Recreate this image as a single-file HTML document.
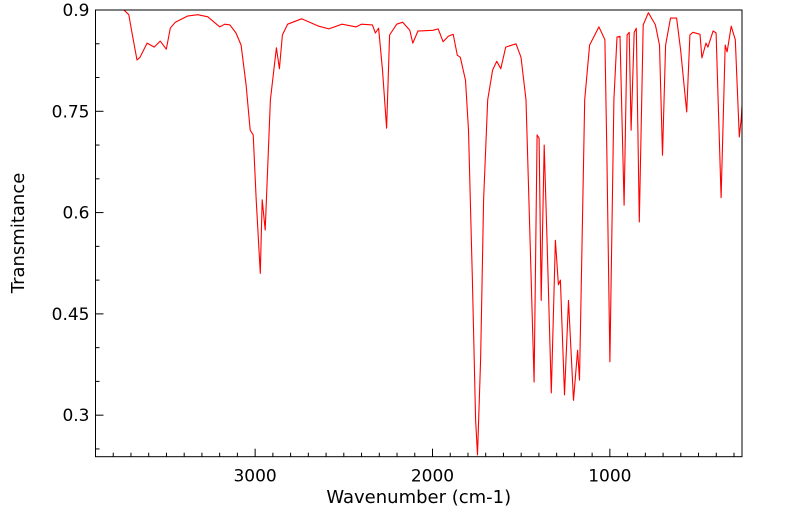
<!DOCTYPE html>
<html><head><meta charset="utf-8"><style>
html,body{margin:0;padding:0;background:#fff;}
svg{display:block;font-family:"DejaVu Sans","Liberation Sans",sans-serif;}
</style></head><body>
<svg id="chart" width="799" height="516" xmlns="http://www.w3.org/2000/svg"></svg>
<script>
const wavenumbers = [3923,3740,3712,3695,3666,3649,3609,3569,3535,3501,3478,3450,3382,3324,3267,3199,3171,3142,3108,3079,3051,3028,3011,2994,2971,2960,2943,2914,2880,2863,2846,2817,2738,2641,2584,2510,2430,2401,2339,2322,2304,2282,2259,2242,2202,2168,2128,2111,2082,2071,1997,1968,1940,1911,1883,1860,1843,1814,1797,1775,1757,1746,1729,1712,1689,1661,1638,1615,1587,1529,1501,1473,1455,1427,1410,1399,1387,1370,1353,1330,1307,1290,1279,1256,1233,1205,1182,1171,1142,1114,1062,1028,1017,1000,977,960,943,920,903,891,880,863,851,834,812,783,743,720,703,686,658,624,601,567,549,532,492,481,458,447,418,401,373,350,339,316,293,270,259,236];
const transmittance = [0.900,0.900,0.893,0.867,0.826,0.830,0.851,0.845,0.854,0.842,0.873,0.882,0.891,0.893,0.890,0.875,0.879,0.878,0.866,0.848,0.789,0.722,0.715,0.619,0.510,0.619,0.574,0.767,0.844,0.813,0.863,0.879,0.887,0.876,0.872,0.879,0.875,0.879,0.878,0.866,0.873,0.811,0.725,0.863,0.879,0.882,0.870,0.851,0.869,0.869,0.870,0.872,0.853,0.861,0.864,0.833,0.830,0.796,0.722,0.500,0.293,0.241,0.382,0.619,0.767,0.811,0.824,0.813,0.845,0.850,0.830,0.767,0.604,0.349,0.715,0.710,0.470,0.700,0.545,0.333,0.559,0.493,0.500,0.330,0.470,0.322,0.396,0.352,0.767,0.848,0.875,0.856,0.693,0.379,0.767,0.860,0.861,0.611,0.863,0.867,0.722,0.867,0.873,0.586,0.878,0.896,0.878,0.848,0.685,0.848,0.888,0.888,0.841,0.749,0.863,0.867,0.864,0.829,0.851,0.845,0.869,0.866,0.622,0.848,0.838,0.876,0.856,0.712,0.740,0.848];
const xTickValues = [3000,2000,1000];
const yTickValues = [0.9,0.75,0.6,0.45,0.3];
const yTickLabels = ["0.9","0.75","0.6","0.45","0.3"];

const L=95.5,R=742,T=10,B=456.7;
const X0=3900,X1=255,Y0=0.9,Y1=0.2385;
const xs=w=>L+(X0-w)/(X0-X1)*(R-L);
const ys=v=>T+(Y0-v)/(Y0-Y1)*(B-T);
const svg=document.getElementById('chart');
const NS='http://www.w3.org/2000/svg';
function mk(tag,attrs,parent){const e=document.createElementNS(NS,tag);for(const k in attrs)e.setAttribute(k,attrs[k]);(parent||svg).appendChild(e);return e;}

let d='';
for(let i=0;i<wavenumbers.length;i++){d+=(i?'L':'M')+xs(wavenumbers[i]).toFixed(1)+','+ys(transmittance[i]).toFixed(1);}
const clip=mk('clipPath',{id:'pc'});mk('rect',{x:L,y:T,width:R-L,height:B-T},clip);
const line=mk('path',{d:d,fill:'none',stroke:'#ff0000','stroke-width':1.1,'clip-path':'url(#pc)','stroke-linejoin':'round'});



const frame=mk('rect',{x:L,y:T,width:R-L,height:B-T,fill:'none',stroke:'#000','stroke-width':1});



for(let w=3800;w>=X1;w-=100){
  const x=xs(w);const major=xTickValues.includes(w);
  const t=mk('line',{x1:x,x2:x,y1:B,y2:B-(major?8:4),stroke:'#000','stroke-width':1});
  
  
}
xTickValues.forEach(w=>{
  const tx=mk('text',{x:xs(w),y:B+25,'text-anchor':'middle','font-size':17,fill:'#000'});
  tx.textContent=String(w);
  
  
});
for(let k=0;k<=13;k++){
  const v=0.9-k*0.05;if(v<Y1)break;
  const y=ys(v);const major=(k%3===0);
  const t=mk('line',{x1:L,x2:L+(major?8:4),y1:y,y2:y,stroke:'#000','stroke-width':1});
  
  
}
yTickValues.forEach((v,i)=>{
  const tx=mk('text',{x:L-6,y:ys(v)+6,'text-anchor':'end','font-size':17,fill:'#000'});
  tx.textContent=yTickLabels[i];
  
  
});
const xt=mk('text',{x:(L+R)/2,y:503,'text-anchor':'middle','font-size':18,fill:'#000'});
xt.textContent='Wavenumber (cm-1)';


const yt=mk('text',{x:0,y:0,'text-anchor':'middle','font-size':18,fill:'#000',transform:'translate(24,233) rotate(-90)'});
yt.textContent='Transmitance';


</script>
</body></html>
